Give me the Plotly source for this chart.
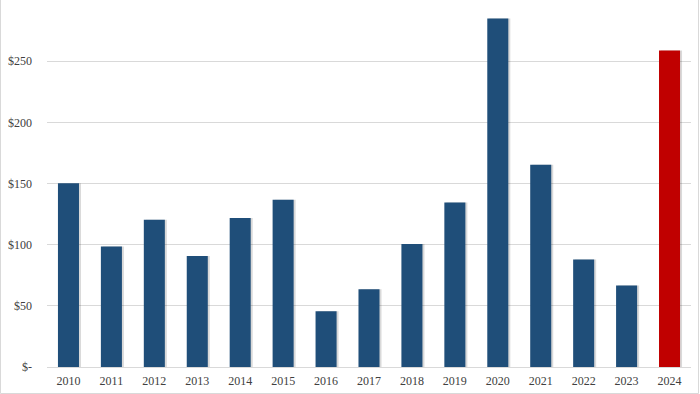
import plotly.graph_objects as go

years = ["2010", "2011", "2012", "2013", "2014", "2015", "2016", "2017",
         "2018", "2019", "2020", "2021", "2022", "2023", "2024"]
values = [150.3, 98.4, 120.4, 90.8, 121.8, 136.7, 45.6, 63.5,
          100.6, 134.5, 284.9, 165.3, 87.8, 66.6, 258.8]
tick_vals = [0, 50, 100, 150, 200, 250, 300]
tick_text = ["$-", "$50", "$100", "$150", "$200", "$250", "$300"]

colors = ["#1F4E79"] * (len(years) - 1) + ["#C00000"]

W, H = 700, 394
ml, mr, mt, mb = 47, 9, 0, 27
bar_w = 0.49
px = 1.0 / 43.0

fig = go.Figure()
# soft shadow
fig.add_trace(go.Bar(
    x=years, y=values, width=bar_w, offset=-bar_w / 2 + 2 * px,
    marker=dict(color="rgba(0,0,0,0.15)", line=dict(width=0)),
    hoverinfo="skip", showlegend=False,
))
fig.add_trace(go.Bar(
    x=years, y=values, width=bar_w, offset=-bar_w / 2,
    marker=dict(color=colors, line=dict(width=0)),
    showlegend=False,
))

font = dict(family="Liberation Serif, Times New Roman, serif", size=12, color="#404040")

fig.update_layout(
    width=W, height=H,
    margin=dict(l=ml, r=mr, t=mt, b=mb),
    paper_bgcolor="white", plot_bgcolor="white",
    barmode="overlay",
    font=font,
    xaxis=dict(
        type="category", showgrid=False, showline=True, linecolor="#D9D9D9",
        linewidth=1, ticks="", tickfont=font, ticklabelstandoff=3,
        range=[-0.5, len(years) - 0.5], automargin=False,
    ),
    yaxis=dict(
        range=[0, 300], tickvals=tick_vals, ticktext=tick_text,
        showgrid=True, gridcolor="#D9D9D9", gridwidth=1,
        zeroline=False, showline=False, ticks="", tickfont=font,
        ticklabelstandoff=14, automargin=False,
    ),
)

# light frame around the chart
pw = W - ml - mr
ph = H - mt - mb
fig.add_shape(type="rect", xref="paper", yref="paper",
              x0=(0.5 - ml) / pw, x1=(W - 1.5 - ml) / pw,
              y0=-(mb - 0.5) / ph, y1=1 + (mt + 5) / ph,
              line=dict(color="#D9D9D9", width=1), layer="below")

fig.write_html(
    "out.html",
    config={"displayModeBar": False},
    post_script="document.body.style.margin='0';document.body.style.overflow='hidden';",
)
